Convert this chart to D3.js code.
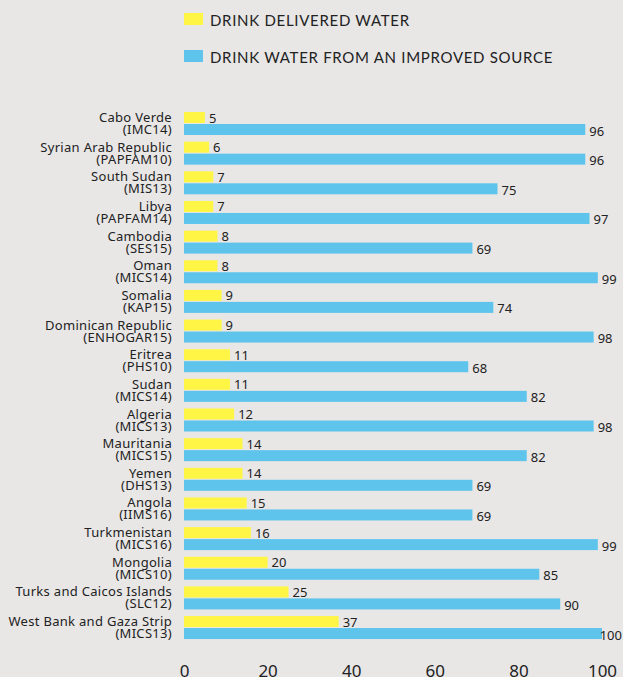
<!DOCTYPE html>
<html>
<head>
<meta charset="utf-8">
<script src="https://cdn.jsdelivr.net/npm/d3@7"></script>
<style>
  html, body { margin: 0; padding: 0; background: #e8e7e6; }
  svg { display: block; font-family: "Noto Sans", Lato, sans-serif; }
</style>
</head>
<body>
<svg id="chart" width="623" height="677"></svg>
<script>
const countries = ["Cabo Verde","Syrian Arab Republic","South Sudan","Libya","Cambodia","Oman","Somalia","Dominican Republic","Eritrea","Sudan","Algeria","Mauritania","Yemen","Angola","Turkmenistan","Mongolia","Turks and Caicos Islands","West Bank and Gaza Strip"];
const surveys = ["(IMC14)","(PAPFAM10)","(MIS13)","(PAPFAM14)","(SES15)","(MICS14)","(KAP15)","(ENHOGAR15)","(PHS10)","(MICS14)","(MICS13)","(MICS15)","(DHS13)","(IIMS16)","(MICS16)","(MICS10)","(SLC12)","(MICS13)"];
const delivered = [5,6,7,7,8,8,9,9,11,11,12,14,14,15,16,20,25,37];
const improved = [96,96,75,97,69,99,74,98,68,82,98,82,69,69,99,85,90,100];
const seriesNames = ["DRINK DELIVERED WATER","DRINK WATER FROM AN IMPROVED SOURCE"];
const ticks = [0,20,40,60,80,100];

const colors = ["#fff545", "#5ec4ec"];
const W = 623, H = 677;
const svg = d3.select("#chart");

const x = d3.scaleLinear().domain([0,100]).range([184,602]);
const y = d3.scaleBand().domain(countries).range([112, 112 + 18*29.65]).padding(0);
const barH = 11;

// legend
const lg = svg.append("g");
seriesNames.forEach((n,i) => {
  lg.append("rect").attr("x",184).attr("y",13+i*37).attr("width",19).attr("height",12).attr("fill",colors[i]);
  lg.append("text").attr("x",210).attr("y",25.5+i*37).attr("font-size",15).attr("letter-spacing","0.7px")
    .attr("font-family","Lato, 'Noto Sans', sans-serif")
    .attr("fill","#222").text(n);
});

const data = countries.map((c,i) => ({c, s: surveys[i], v: [delivered[i], improved[i]]}));

const g = svg.append("g");
const rows = g.selectAll("g.row").data(data).join("g").attr("class","row");

// category labels
rows.append("text").attr("x",172).attr("y",d=>y(d.c)+10).attr("text-anchor","end")
  .attr("font-size",13).attr("letter-spacing","0.3px").attr("fill","#222").text(d=>d.c);
rows.append("text").attr("x",172).attr("y",d=>y(d.c)+22).attr("text-anchor","end")
  .attr("font-size",13).attr("letter-spacing","0.3px").attr("fill","#222").text(d=>d.s);

[0,1].forEach(k => {
  rows.append("rect").attr("x",x(0)).attr("y",d=>y(d.c)+k*12)
    .attr("width",d=>x(d.v[k])-x(0)).attr("height",barH).attr("fill",colors[k]);
  rows.append("text").attr("class","val")
    .attr("y",d=>y(d.c)+k*12+(k===0?10.5:11.5))
    .attr("font-size",13).attr("fill","#222")
    .text(d=>d.v[k])
    .each(function(d){
      const w = this.getComputedTextLength();
      const xx = Math.min(x(d.v[k]) + 4, W - 1 - w);
      d3.select(this).attr("x", xx);
    });
});

// axis
const ax = svg.append("g").attr("transform","translate(0,677)")
  .call(d3.axisBottom(x).tickValues(ticks).tickSize(0).tickPadding(0));
ax.select(".domain").remove();
ax.selectAll("text").attr("font-size",17).attr("fill","#222").attr("font-family","'Noto Sans', Lato, sans-serif").attr("dy","0");
</script>
</body>
</html>
